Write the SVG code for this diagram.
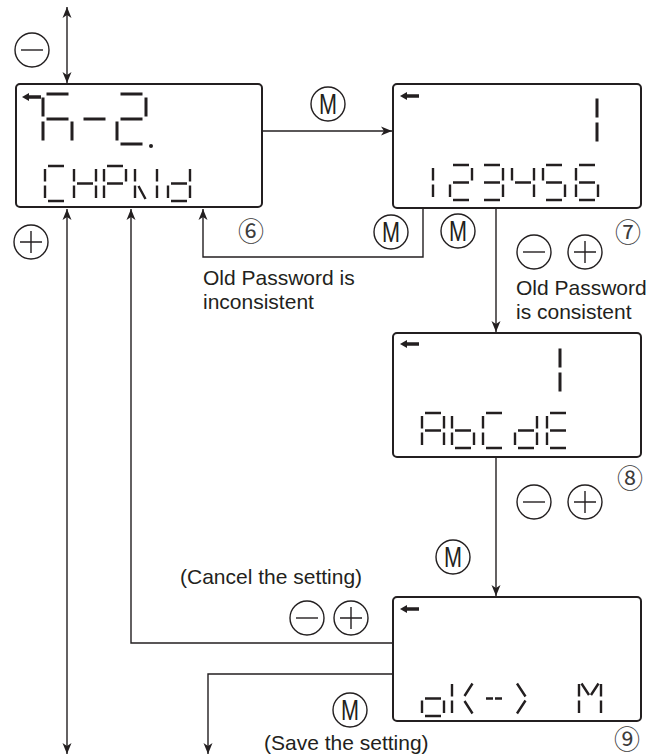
<svg xmlns="http://www.w3.org/2000/svg" width="659" height="756" viewBox="0 0 659 756">
<style>
.disp{fill:#fff;stroke:#231f20;stroke-width:2}
.seg{fill:none;stroke:#231f20;stroke-width:2.4}
.segL{fill:none;stroke:#231f20;stroke-width:3}
.conn{fill:none;stroke:#231f20;stroke-width:1.4}
.btn{fill:none;stroke:#231f20;stroke-width:1.4}
.lbl{font-family:"Liberation Sans",Arial,sans-serif;font-size:21px;fill:#231f20}
.mk{font-family:"Liberation Sans",Arial,sans-serif;font-size:29px;fill:#231f20;text-anchor:middle}
.num{font-family:"Noto Sans CJK JP","DejaVu Sans",sans-serif;font-size:26px;fill:#3c3c3c;text-anchor:middle}
.ico{fill:#231f20}
</style>
<defs>
<marker id="ah" viewBox="-12 -5 13 10" refX="0" refY="0" markerWidth="13" markerHeight="10" markerUnits="userSpaceOnUse" orient="auto-start-reverse">
<path d="M0 0L-11 -4.5L-8 0L-11 4.5Z" fill="#231f20"/>
</marker>
<polygon id="back" class="ico" points="0,4 7,0 7,2.3 19,2.3 19,5.7 7,5.7 7,8"/>
<g id="bMinus"><circle class="btn" r="17"/><path class="btn" d="M-11 0H11"/></g>
<g id="bPlus"><circle class="btn" r="17"/><path class="btn" d="M-11 0H11M0 -11V11"/></g>
<path id="L_h" class="segL" d="M3.5 0H25.5M0 3.5V22.5M0 27.5V46.5M3.5 25H25.5M29 27.5V46.5"/>
<path id="L_dash" class="segL" d="M3.5 25H25.5"/>
<path id="L_2" class="segL" d="M3.5 0H25.5M29 3.5V22.5M3.5 25H25.5M0 27.5V46.5M3.5 50H25.5"/>
<path id="L_1" class="segL" d="M29 3.5V22.5M29 27.5V46.5"/>
<path id="s_C" class="seg" d="M3 0H19M0 3V15.5M0 19.5V32M3 35H19"/>
<path id="s_H" class="seg" d="M0 3V15.5M0 19.5V32M22 3V15.5M22 19.5V32M3 17.5H19"/>
<path id="s_P" class="seg" d="M3 0H19M22 3V15.5M0 3V15.5M0 19.5V32M3 17.5H19"/>
<path id="s_W" class="seg" d="M0 3V15.5M0 19.5V32M22 3V15.5M22 19.5V32M3.5 20L10.5 33"/>
<path id="s_d" class="seg" d="M22 3V15.5M22 19.5V32M3 17.5H19M0 19.5V32M3 35H19"/>
<path id="s_1" class="seg" d="M22 3V15.5M22 19.5V32"/>
<path id="s_2" class="seg" d="M3 0H19M22 3V15.5M3 17.5H19M0 19.5V32M3 35H19"/>
<path id="s_3" class="seg" d="M3 0H19M22 3V15.5M3 17.5H19M22 19.5V32M3 35H19"/>
<path id="s_4" class="seg" d="M0 3V15.5M3 17.5H19M22 3V15.5M22 19.5V32"/>
<path id="s_5" class="seg" d="M3 0H19M0 3V15.5M3 17.5H19M22 19.5V32M3 35H19"/>
<path id="s_6" class="seg" d="M3 0H19M0 3V15.5M3 17.5H19M0 19.5V32M3 35H19M22 19.5V32"/>
<path id="s_A" class="seg" d="M3 0H19M22 3V15.5M22 19.5V32M0 3V15.5M0 19.5V32M3 17.5H19"/>
<path id="s_b" class="seg" d="M0 3V15.5M0 19.5V32M3 17.5H19M22 19.5V32M3 35H19"/>
<path id="s_E" class="seg" d="M3 0H19M0 3V15.5M3 17.5H19M0 19.5V32M3 35H19"/>
<path id="s_o" class="seg" d="M3 17.5H19M22 19.5V32M3 35H19M0 19.5V32"/>
<path id="s_k" class="seg" d="M0 3V15.5M0 19.5V32M12.5 15L20.5 2.5M12.5 20L20.5 32.5"/>
<path id="s_dd" class="seg" d="M3 17.5H10M12 17.5H19"/>
<path id="s_gt" class="seg" d="M2 2.5L10.5 15.5M10.5 19.5L2 32.5"/>
<path id="s_M" class="seg" d="M0 3V15.5M0 19.5V32M22 3V15.5M22 19.5V32M2.5 2.5L10 14M19.5 2.5L12 14"/>
</defs>

<g id="connectors">
<path class="conn" d="M67 7V83" marker-start="url(#ah)" marker-end="url(#ah)"/>
<path class="conn" d="M67 754V209" marker-start="url(#ah)" marker-end="url(#ah)"/>
<path class="conn" d="M393 643H131V209" marker-end="url(#ah)"/>
<path class="conn" d="M393 674H208V754" marker-end="url(#ah)"/>
<path class="conn" d="M263 131H392" marker-end="url(#ah)"/>
<path class="conn" d="M423 209V257H203V209" marker-end="url(#ah)"/>
<path class="conn" d="M496 209V332" marker-end="url(#ah)"/>
<path class="conn" d="M496 458V596" marker-end="url(#ah)"/>
</g>

<g id="display1">
<rect class="disp" x="16" y="84" width="246" height="123" rx="4"/>
<use href="#back" x="22" y="93"/>
<use href="#L_h" x="43" y="94"/>
<use href="#L_dash" x="80" y="94"/>
<use href="#L_2" x="117" y="94"/>
<circle class="ico" cx="151" cy="146" r="2"/>
<use href="#s_C" x="45" y="166"/>
<use href="#s_H" x="74" y="166"/>
<use href="#s_P" x="104" y="166"/>
<use href="#s_W" x="135" y="166"/>
<use href="#s_d" x="168" y="166"/>
</g>

<g id="display2">
<rect class="disp" x="393" y="84" width="248" height="124" rx="4"/>
<use href="#back" x="400" y="92"/>
<use href="#L_1" x="568" y="95"/>
<use href="#s_1" x="411" y="165"/>
<use href="#s_2" x="450" y="165"/>
<use href="#s_3" x="481" y="165"/>
<use href="#s_4" x="512" y="165"/>
<use href="#s_5" x="543" y="165"/>
<use href="#s_6" x="576" y="165"/>
</g>

<g id="display3">
<rect class="disp" x="393" y="333" width="248" height="124" rx="4"/>
<use href="#back" x="400" y="340"/>
<use href="#L_1" x="531" y="345"/>
<use href="#s_A" x="422" y="413"/>
<use href="#s_b" x="452" y="413"/>
<use href="#s_C" x="483" y="413"/>
<use href="#s_d" x="515" y="413"/>
<use href="#s_E" x="547" y="413"/>
</g>

<g id="display4">
<rect class="disp" x="393" y="597" width="248" height="124" rx="4"/>
<use href="#back" x="400" y="605"/>
<use href="#s_o" x="422" y="681"/>
<use href="#s_k" x="452" y="681"/>
<use href="#s_dd" x="483" y="681"/>
<use href="#s_gt" x="515" y="681"/>
<use href="#s_M" x="579" y="681"/>
</g>

<g id="buttons">
<use href="#bMinus" x="32" y="50"/>
<use href="#bPlus" x="31" y="242"/>
<circle class="btn" cx="328" cy="104" r="17"/>
<text class="mk" x="328" y="114" textLength="18" lengthAdjust="spacingAndGlyphs">M</text>
<circle class="btn" cx="391" cy="232" r="17"/>
<text class="mk" x="391" y="242" textLength="18" lengthAdjust="spacingAndGlyphs">M</text>
<circle class="btn" cx="458" cy="231" r="17"/>
<text class="mk" x="458" y="241" textLength="18" lengthAdjust="spacingAndGlyphs">M</text>
<use href="#bMinus" x="534" y="252"/>
<use href="#bPlus" x="585" y="252"/>
<use href="#bMinus" x="534" y="502"/>
<use href="#bPlus" x="585" y="502"/>
<circle class="btn" cx="453" cy="557" r="17"/>
<text class="mk" x="453" y="567" textLength="18" lengthAdjust="spacingAndGlyphs">M</text>
<use href="#bMinus" x="307" y="618"/>
<use href="#bPlus" x="351" y="618"/>
<circle class="btn" cx="350" cy="710" r="17"/>
<text class="mk" x="350" y="720" textLength="18" lengthAdjust="spacingAndGlyphs">M</text>
</g>

<g id="labels">
<text class="num" x="251" y="241">⑥</text>
<text class="num" x="628" y="242">⑦</text>
<text class="num" x="630" y="488">⑧</text>
<text class="num" x="627" y="749">⑨</text>
<text class="lbl" x="203" y="285">Old Password is</text>
<text class="lbl" x="203" y="309">inconsistent</text>
<text class="lbl" x="516" y="295">Old Password</text>
<text class="lbl" x="516" y="319">is consistent</text>
<text class="lbl" x="180" y="584">(Cancel the setting)</text>
<text class="lbl" x="264" y="750">(Save the setting)</text>
</g>
</svg>
